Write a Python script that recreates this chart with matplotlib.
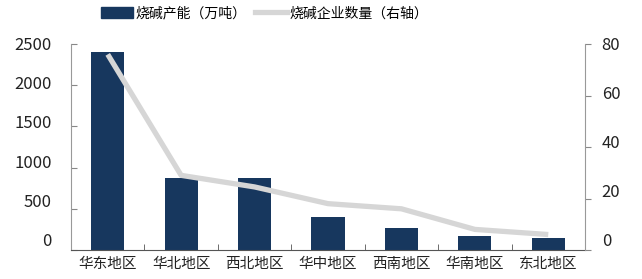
import matplotlib
matplotlib.use('Agg')
import matplotlib.pyplot as plt
from matplotlib.patches import Patch
from matplotlib.lines import Line2D
from matplotlib.transforms import ScaledTranslation
import numpy as np

plt.rcParams['font.family'] = ['Noto Sans CJK SC', 'DejaVu Sans']

regions = ['华东地区', '华北地区', '西北地区', '华中地区', '西南地区', '华南地区', '东北地区']
capacity = [2400, 880, 870, 405, 270, 170, 145]
companies = [76, 29, 24.5, 18, 16, 8, 6]
left_ticks = [0, 500, 1000, 1500, 2000, 2500]
right_ticks = [0, 20, 40, 60, 80]

bar_color = '#17375E'
line_color = '#D6D6D6'

fig = plt.figure(figsize=(6.42, 2.79), dpi=100)
ax = fig.add_axes([0.1106, 0.104, 0.8006, 0.738])
x = np.arange(len(regions))
ax.bar(x, capacity, width=0.45, color=bar_color, zorder=2)
ax.set_xlim(-0.5, len(regions) - 0.5)
ax.set_ylim(0, 2500)
ax.set_yticks(left_ticks)
ax.set_yticklabels([str(t) for t in left_ticks], fontsize=12, color='#222222')
ax.set_xticks(x)
ax.set_xticklabels(regions, fontsize=10.5, color='#222222')
ax.set_xticks(np.arange(-0.5, len(regions)), minor=True)
ax.tick_params(axis='x', which='major', length=0, pad=5)
ax.tick_params(axis='x', which='minor', direction='in', length=4, color='#555555')
ax.tick_params(axis='y', direction='in', length=4, pad=14, color='#888888')
ax.spines['top'].set_visible(False)
ax.spines['right'].set_visible(False)
ax.spines['left'].set_color('#999999')
ax.spines['bottom'].set_color('#555555')

ax2 = ax.twinx()
ax2.plot(x, companies, color=line_color, linewidth=3.8, solid_capstyle='butt', zorder=3)
ax2.set_ylim(0, 80)
ax2.set_yticks(right_ticks)
ax2.set_yticklabels([str(t) for t in right_ticks], fontsize=12, color='#222222')
ax2.tick_params(axis='y', direction='out', length=4, pad=8, color='#888888')
for s in ['top', 'left', 'bottom']:
    ax2.spines[s].set_visible(False)
ax2.spines['right'].set_color('#999999')

# labels sit a little above their ticks, more so near the bottom
for axis_obj in [ax, ax2]:
    labels = axis_obj.get_yticklabels()
    n = len(labels)
    for i, lab in enumerate(labels):
        dy = (10 - 9 * i / (n - 1)) / 100
        lab.set_transform(lab.get_transform() + ScaledTranslation(0, dy, fig.dpi_scale_trans))

handles = [Patch(color=bar_color), Line2D([], [], color=line_color, linewidth=3.8)]
fig.legend(handles, ['烧碱产能（万吨）', '烧碱企业数量（右轴）'], loc='center',
           bbox_to_anchor=(0.412, 0.952), ncol=2, frameon=False, fontsize=10,
           handlelength=2.3, handleheight=0.9, handletextpad=0.2, columnspacing=0.6)

fig.savefig('out.png', dpi=100)
